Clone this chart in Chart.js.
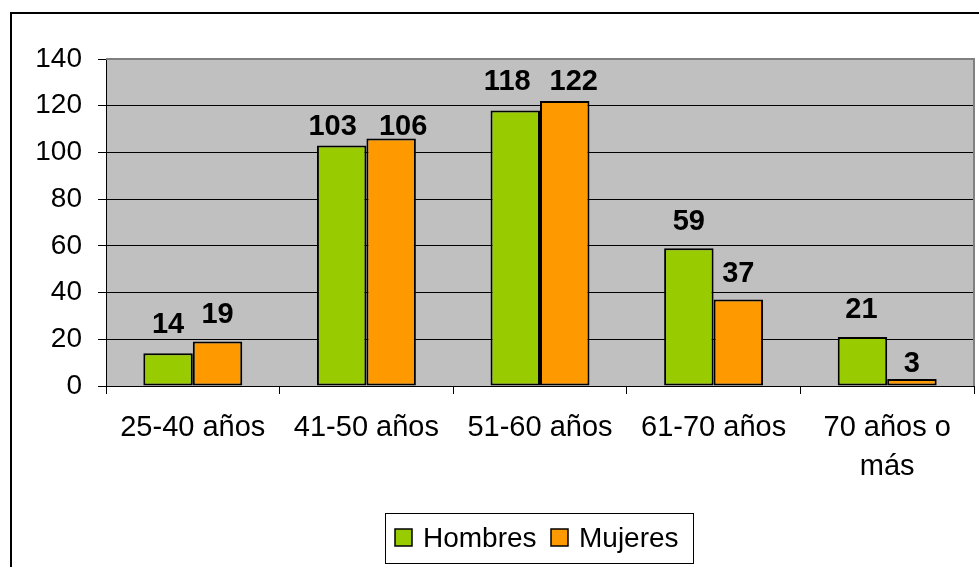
<!DOCTYPE html>
<html>
<head>
<meta charset="utf-8">
<script src="https://cdn.jsdelivr.net/npm/chart.js@4"></script>
<style>
  html, body { margin: 0; padding: 0; background: #ffffff; }
  #wrap { width: 979px; height: 567px; position: relative; }
</style>
</head>
<body>
<div id="wrap"><canvas id="c" width="979" height="567"></canvas></div>
<script>
// ---- data ----
const categories = ['25-40 años', '41-50 años', '51-60 años', '61-70 años', ['70 años o', 'más']];
const hombres = [14, 103, 118, 59, 21];
const mujeres = [19, 106, 122, 37, 3];
const seriesNames = ['Hombres', 'Mujeres'];
const yTicks = [0, 20, 40, 60, 80, 100, 120, 140];

const FONT = '"Liberation Sans", Arial, sans-serif';
const GREEN = '#99CC00';
const ORANGE = '#FF9900';

// label nudges (pixels) as placed by hand in the original chart
const labelNudge = [
  { dx: [0, -9, -8, 0, -1], dy: [-1, 9, -1, 1, 0] },
  { dx: [0, 12, 9, 0, 0], dy: [0, 16, 8, 1, 12] }
];

const framePlugin = {
  id: 'frame',
  beforeDraw(chart) {
    const { ctx, chartArea: a } = chart;
    ctx.save();
    ctx.fillStyle = '#ffffff';
    ctx.fillRect(0, 0, chart.width, chart.height);
    ctx.fillStyle = '#C0C0C0';
    ctx.fillRect(a.left, a.top, a.right - a.left, a.bottom - a.top);
    ctx.restore();
  },
  afterDraw(chart) {
    const { ctx, chartArea: a } = chart;
    ctx.save();
    ctx.strokeStyle = '#808080';
    ctx.lineWidth = 2;
    ctx.beginPath();
    ctx.moveTo(a.left, a.top);
    ctx.lineTo(a.right, a.top);
    ctx.lineTo(a.right, a.bottom);
    ctx.stroke();
    ctx.strokeStyle = '#000000';
    ctx.lineWidth = 2;
    ctx.beginPath();
    ctx.moveTo(11, chart.height);
    ctx.lineTo(11, 13);
    ctx.lineTo(chart.width, 13);
    ctx.stroke();
    const lx = 385, ly = 513, lw = 308, lh = 50;
    ctx.fillStyle = '#ffffff';
    ctx.fillRect(lx, ly, lw, lh);
    ctx.strokeStyle = '#000000';
    ctx.lineWidth = 1;
    ctx.strokeRect(lx + 0.5, ly + 0.5, lw, lh);
    const items = [
      { x: 395, textX: 423 },
      { x: 551, textX: 579 }
    ];
    ctx.font = '28px ' + FONT;
    ctx.textBaseline = 'middle';
    ctx.textAlign = 'left';
    chart.data.datasets.forEach((ds, i) => {
      const it = items[i];
      ctx.fillStyle = ds.backgroundColor;
      ctx.fillRect(it.x, 529, 17, 17);
      ctx.strokeStyle = '#000000';
      ctx.lineWidth = 1.5;
      ctx.strokeRect(it.x, 529, 17, 17);
      ctx.fillStyle = '#000000';
      ctx.fillText(ds.label, it.textX, 539);
    });
    ctx.restore();
  },
  afterDatasetsDraw(chart) {
    const { ctx } = chart;
    ctx.save();
    ctx.font = 'bold 29px ' + FONT;
    ctx.fillStyle = '#000000';
    ctx.textAlign = 'center';
    ctx.textBaseline = 'alphabetic';
    chart.data.datasets.forEach((ds, di) => {
      const meta = chart.getDatasetMeta(di);
      meta.data.forEach((bar, i) => {
        const n = labelNudge[di];
        ctx.fillText(String(ds.data[i]), bar.x + n.dx[i], bar.y - 19 + n.dy[i]);
      });
    });
    ctx.restore();
  }
};

new Chart(document.getElementById('c'), {
  type: 'bar',
  data: {
    labels: categories,
    datasets: [
      { label: seriesNames[0], data: hombres, backgroundColor: GREEN, borderColor: '#000000', borderWidth: 2, borderSkipped: false },
      { label: seriesNames[1], data: mujeres, backgroundColor: ORANGE, borderColor: '#000000', borderWidth: 2, borderSkipped: false }
    ]
  },
  options: {
    responsive: false,
    animation: false,
    devicePixelRatio: 1,
    layout: { padding: { top: 59, right: 5, left: 0, bottom: 0 } },
    datasets: { bar: { categoryPercentage: 0.57, barPercentage: 1 } },
    plugins: {
      legend: { display: false },
      tooltip: { enabled: false }
    },
    scales: {
      x: {
        afterFit(scale) { scale.height = 181; },
        grid: { offset: true, drawOnChartArea: false, tickLength: 8, color: '#000000', lineWidth: 1 },
        border: { display: true, color: '#000000', width: 1 },
        ticks: {
          color: '#000000',
          padding: 14,
          font: { family: FONT, size: 29, lineHeight: 1.345 }
        }
      },
      y: {
        min: 0,
        max: 140,
        afterFit(scale) { scale.width = 106; },
        afterBuildTicks(scale) { scale.ticks = yTicks.map(v => ({ value: v })); },
        grid: {
          color: (c) => (c.tick && c.tick.value === 140 ? 'rgba(0,0,0,0)' : '#000000'),
          tickColor: '#000000',
          tickLength: 8,
          lineWidth: 1
        },
        border: { display: true, color: '#000000', width: 1 },
        ticks: {
          color: '#000000',
          padding: 16,
          font: { family: FONT, size: 28 }
        }
      }
    }
  },
  plugins: [framePlugin]
});
</script>
</body>
</html>
